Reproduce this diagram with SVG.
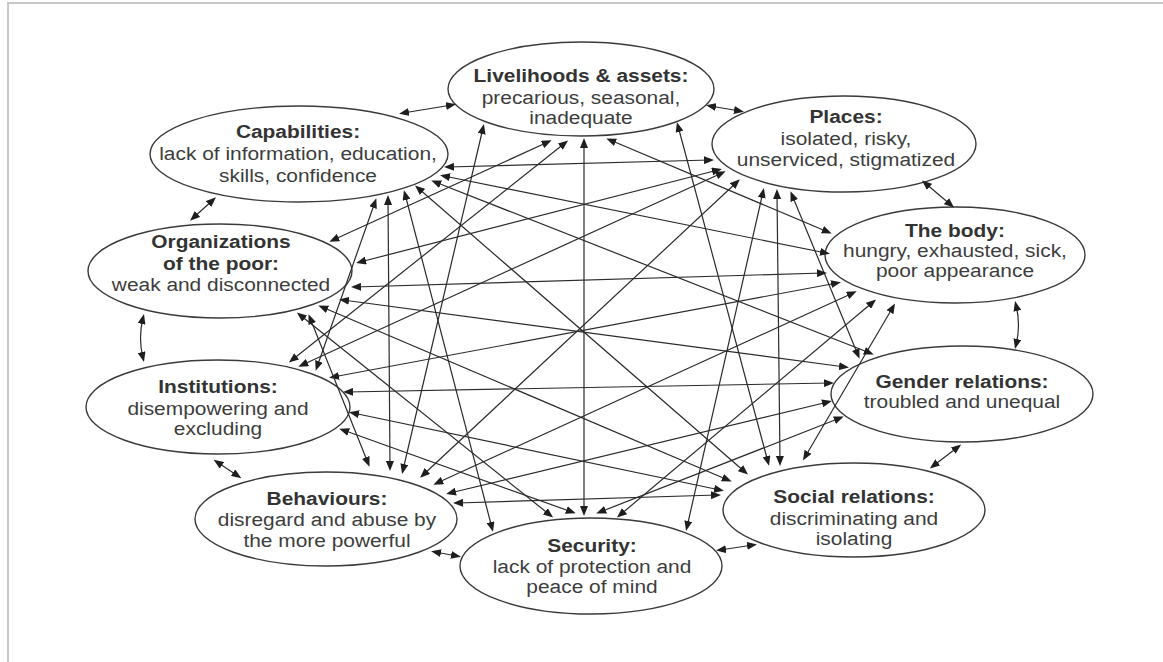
<svg xmlns="http://www.w3.org/2000/svg" width="1163" height="662" viewBox="0 0 1163 662">
<defs>
<style>
.frame{stroke:#c8c8c8;stroke-width:2;fill:none}
.node ellipse{fill:#fff;stroke:#3a3a3a;stroke-width:1.4}
.node text{font-family:"Liberation Sans",Arial,sans-serif;font-size:19px;fill:#3d3d3d;text-anchor:middle}
.node text.t{font-weight:bold;fill:#333}
#connectors line,#connectors path{stroke:#2b2b2b;stroke-width:1.2;fill:none;marker-start:url(#ah);marker-end:url(#ah)}
</style>
<marker id="ah" viewBox="0 0 10 8" refX="6" refY="4" markerWidth="10" markerHeight="8" markerUnits="userSpaceOnUse" orient="auto-start-reverse">
<path d="M0,0 L10,4 L0,8 z" fill="#1e1e1e"/>
</marker>
</defs>
<rect width="1163" height="662" fill="#fff"/>
<path class="frame" d="M8,662 V3 H1163"/>

<g id="n-livelihoods" class="node">
<ellipse cx="581" cy="89" rx="133" ry="47"/>
<g transform="translate(581,0) scale(1.1,1)">
<text class="t" x="0" y="82">Livelihoods &amp; assets:</text>
<text x="0" y="104">precarious, seasonal,</text>
<text x="0" y="124">inadequate</text>
</g>
</g>
<g id="n-places" class="node">
<ellipse cx="844" cy="144" rx="132" ry="48"/>
<g transform="translate(846,0) scale(1.1,1)">
<text class="t" x="0" y="123">Places:</text>
<text x="0" y="145">isolated, risky,</text>
<text x="0" y="166">unserviced, stigmatized</text>
</g>
</g>
<g id="n-body" class="node">
<ellipse cx="955" cy="255" rx="130" ry="48"/>
<g transform="translate(955,0) scale(1.1,1)">
<text class="t" x="0" y="237">The body:</text>
<text x="0" y="257">hungry, exhausted, sick,</text>
<text x="0" y="277">poor appearance</text>
</g>
</g>
<g id="n-gender" class="node">
<ellipse cx="962" cy="394" rx="131" ry="48"/>
<g transform="translate(962,0) scale(1.1,1)">
<text class="t" x="0" y="388">Gender relations:</text>
<text x="0" y="408">troubled and unequal</text>
</g>
</g>
<g id="n-social" class="node">
<ellipse cx="854" cy="510" rx="131" ry="47"/>
<g transform="translate(854,0) scale(1.1,1)">
<text class="t" x="0" y="503">Social relations:</text>
<text x="0" y="525">discriminating and</text>
<text x="0" y="545">isolating</text>
</g>
</g>
<g id="n-security" class="node">
<ellipse cx="591" cy="566" rx="131" ry="48"/>
<g transform="translate(592,0) scale(1.1,1)">
<text class="t" x="0" y="552">Security:</text>
<text x="0" y="573">lack of protection and</text>
<text x="0" y="593">peace of mind</text>
</g>
</g>
<g id="n-behaviours" class="node">
<ellipse cx="326" cy="519" rx="131" ry="47"/>
<g transform="translate(327,0) scale(1.1,1)">
<text class="t" x="0" y="505">Behaviours:</text>
<text x="0" y="526">disregard and abuse by</text>
<text x="0" y="547">the more powerful</text>
</g>
</g>
<g id="n-institutions" class="node">
<ellipse cx="218" cy="407" rx="132" ry="47"/>
<g transform="translate(218,0) scale(1.1,1)">
<text class="t" x="0" y="393">Institutions:</text>
<text x="0" y="415">disempowering and</text>
<text x="0" y="435">excluding</text>
</g>
</g>
<g id="n-organizations" class="node">
<ellipse cx="220" cy="271" rx="132" ry="47"/>
<g transform="translate(221,0) scale(1.1,1)">
<text class="t" x="0" y="248">Organizations</text>
<text class="t" x="0" y="270">of the poor:</text>
<text x="0" y="291">weak and disconnected</text>
</g>
</g>
<g id="n-capabilities" class="node">
<ellipse cx="299" cy="154" rx="149" ry="48"/>
<g transform="translate(298,0) scale(1.1,1)">
<text class="t" x="0" y="138">Capabilities:</text>
<text x="0" y="160">lack of information, education,</text>
<text x="0" y="182">skills, confidence</text>
</g>
</g>

<g id="connectors">
<!-- adjacent -->
<line x1="403" y1="113" x2="452" y2="105"/>
<line x1="710" y1="106" x2="740" y2="111"/>
<line x1="925" y1="183" x2="951" y2="205"/>
<path d="M1016,305 Q1021,325 1016,345"/>
<line x1="958" y1="447" x2="933" y2="466"/>
<line x1="753" y1="545" x2="720" y2="550"/>
<line x1="457" y1="556" x2="435" y2="552"/>
<line x1="238" y1="476" x2="217" y2="462"/>
<path d="M143,358 Q138,338 143,318"/>
<line x1="193" y1="218" x2="213" y2="200"/>
<!-- livelihoods -->
<line x1="610" y1="140" x2="828" y2="232"/>
<line x1="678" y1="126" x2="768" y2="462"/>
<line x1="584" y1="142" x2="584" y2="512"/>
<line x1="483" y1="128" x2="403" y2="470"/>
<line x1="565" y1="143" x2="292" y2="360"/>
<line x1="548" y1="142" x2="333" y2="240"/>
<!-- places -->
<line x1="792" y1="195" x2="858" y2="355"/>
<line x1="777" y1="193" x2="780" y2="462"/>
<line x1="763" y1="192" x2="687" y2="527"/>
<line x1="737" y1="182" x2="423" y2="475"/>
<line x1="722" y1="173" x2="302" y2="365"/>
<line x1="718" y1="170" x2="360" y2="262"/>
<line x1="710" y1="160" x2="448" y2="167"/>
<!-- body -->
<line x1="893" y1="307" x2="805" y2="457"/>
<line x1="873" y1="302" x2="620" y2="515"/>
<line x1="853" y1="293" x2="437" y2="483"/>
<line x1="837" y1="283" x2="333" y2="377"/>
<line x1="823" y1="273" x2="355" y2="287"/>
<line x1="826" y1="253" x2="444" y2="176"/>
<!-- gender -->
<line x1="840" y1="418" x2="600" y2="512"/>
<line x1="828" y1="402" x2="450" y2="493"/>
<line x1="830" y1="383" x2="347" y2="392"/>
<line x1="845" y1="367" x2="343" y2="300"/>
<line x1="870" y1="353" x2="435" y2="182"/>
<!-- social -->
<line x1="717" y1="495" x2="457" y2="503"/>
<line x1="720" y1="490" x2="353" y2="413"/>
<line x1="728" y1="480" x2="322" y2="307"/>
<line x1="745" y1="472" x2="418" y2="188"/>
<!-- security -->
<line x1="572" y1="512" x2="343" y2="430"/>
<line x1="550" y1="515" x2="300" y2="315"/>
<line x1="492" y1="528" x2="405" y2="194"/>
<!-- behaviours -->
<line x1="368" y1="463" x2="310" y2="318"/>
<line x1="390" y1="467" x2="388" y2="199"/>
<!-- institutions -->
<line x1="317" y1="367" x2="375" y2="202"/>
</g>
</svg>
